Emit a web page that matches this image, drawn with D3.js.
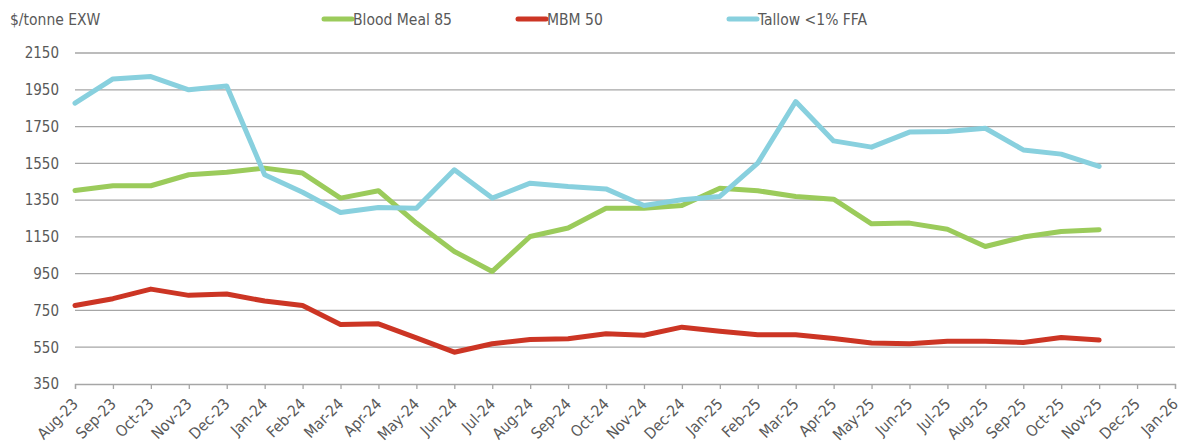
<!DOCTYPE html>
<html>
<head>
<meta charset="utf-8">
<script src="https://cdn.jsdelivr.net/npm/d3@7"></script>
<style>
  html, body { margin: 0; padding: 0; background: #fff; }
  svg text { font-family: "DejaVu Sans Condensed", "DejaVu Sans", sans-serif; fill: #595959; }
</style>
</head>
<body>
<svg id="chart" width="1184" height="443"></svg>
<script>
const months = ["Aug-23","Sep-23","Oct-23","Nov-23","Dec-23","Jan-24","Feb-24","Mar-24","Apr-24","May-24","Jun-24","Jul-24","Aug-24","Sep-24","Oct-24","Nov-24","Dec-24","Jan-25","Feb-25","Mar-25","Apr-25","May-25","Jun-25","Jul-25","Aug-25","Sep-25","Oct-25","Nov-25","Dec-25","Jan-26"];
const yTicks = [350, 550, 750, 950, 1150, 1350, 1550, 1750, 1950, 2150];
const bloodMeal = [1402,1428,1428,1488,1502,1524,1497,1361,1401,1225,1071,962,1152,1198,1306,1306,1321,1415,1401,1370,1355,1221,1225,1192,1098,1149,1179,1189];
const mbm = [777,814,866,832,839,801,777,674,677,601,523,569,592,596,623,615,659,637,618,618,598,573,569,582,582,576,603,589];
const tallow = [1877,2009,2022,1950,1971,1488,1393,1283,1310,1306,1515,1361,1442,1424,1411,1321,1352,1370,1551,1886,1672,1638,1720,1723,1741,1623,1600,1533];
const seriesNames = ["Blood Meal 85","MBM 50","Tallow <1% FFA"];
const seriesColors = ["#9BCB5B","#CC3524","#88D0DE"];
const seriesData = [bloodMeal, mbm, tallow];

const FONT = "'DejaVu Sans Condensed', 'DejaVu Sans', sans-serif";
const svg = d3.select("#chart");
const mLeft = 75, mRight = 1175, mTop = 53, mBottom = 384;

const x = d3.scalePoint().domain(months).range([mLeft, mRight]).padding(0);
const y = d3.scaleLinear().domain([350, 2150]).range([mBottom, mTop]);

// gridlines
svg.append("g").selectAll("line").data(yTicks.filter(d => d !== 350)).enter().append("line")
  .attr("x1", mLeft).attr("x2", mRight)
  .attr("y1", d => y(d)).attr("y2", d => y(d))
  .attr("stroke", "#A6A6A6").attr("stroke-width", 1.3);

// x axis
const xAxis = d3.axisBottom(x).tickSize(5).tickFormat("");
const gx = svg.append("g").attr("transform", `translate(0,${mBottom})`).call(xAxis);
gx.select(".domain").attr("stroke", "#A6A6A6").attr("stroke-width", 1.3);
gx.selectAll(".tick line").attr("stroke", "#A6A6A6").attr("stroke-width", 1.3);

svg.append("g").selectAll("text").data(months).enter().append("text")
  .attr("transform", d => `translate(${x(d) + 4},${mBottom + 21}) rotate(-45)`)
  .attr("text-anchor", "end")
  .attr("font-size", 15.5)
  .text(d => d);

// y axis labels
const yAxis = d3.axisLeft(y).tickValues(yTicks).tickSize(0).tickPadding(16).tickFormat(d3.format("d"));
const gy = svg.append("g").attr("transform", `translate(${mLeft},0)`).call(yAxis);
gy.select(".domain").remove();
gy.selectAll("text").attr("font-size", 15).attr("font-family", FONT).attr("fill", "#595959");

// title
svg.append("text").attr("x", 10).attr("y", 25).attr("font-size", 15.5).text("$/tonne EXW");

// lines
const line = d3.line().x((d, i) => x(months[i])).y(d => y(d));
seriesData.forEach((data, k) => {
  svg.append("path").datum(data)
    .attr("fill", "none")
    .attr("stroke", seriesColors[k])
    .attr("stroke-width", 5)
    .attr("stroke-linejoin", "round")
    .attr("stroke-linecap", "round")
    .attr("d", line);
});

// legend
const legendX = [322, 516, 727];
seriesNames.forEach((name, k) => {
  const g = svg.append("g").attr("transform", `translate(${legendX[k]},19)`);
  g.append("line").attr("x1", 2).attr("x2", 30).attr("y1", 0).attr("y2", 0)
    .attr("stroke", seriesColors[k]).attr("stroke-width", 5).attr("stroke-linecap", "round");
  g.append("text").attr("x", 31).attr("y", 6).attr("font-size", 15.5).text(name);
});
</script>
</body>
</html>
